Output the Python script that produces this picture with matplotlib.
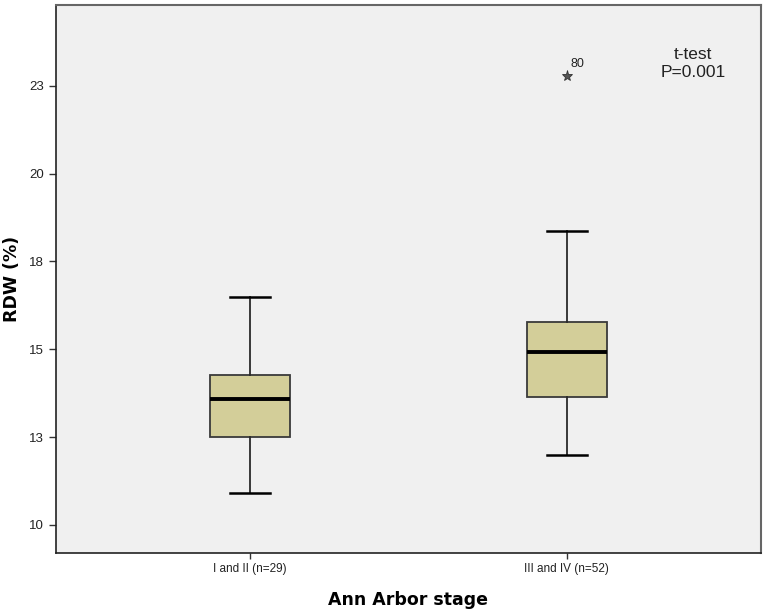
import matplotlib
matplotlib.use("Agg")
import matplotlib.pyplot as plt

groups = ["I and II (n=29)", "III and IV (n=52)"]
whisker_low = [10.90, 11.98]
q1 = [12.50, 13.63]
median = [13.59, 14.92]
q3 = [14.27, 15.79]
whisker_high = [16.50, 18.38]
outliers = [[], [22.79]]
outlier_labels = [[], ["80"]]
ytick_values = [10, 12.5, 15, 17.5, 20, 22.5]
ytick_labels = ["10", "13", "15", "18", "20", "23"]

plt.rcParams['font.family'] = ['Liberation Sans', 'DejaVu Sans']

fig = plt.figure(figsize=(7.66, 6.13), dpi=100)
ax = fig.add_axes([56/766, 1-553/613, 705/766, 548/613])
ax.set_facecolor('#F0F0F0')

stats = []
for i in range(len(groups)):
    stats.append(dict(med=median[i], q1=q1[i], q3=q3[i], whislo=whisker_low[i],
                      whishi=whisker_high[i], fliers=[], label=groups[i]))
positions = [1, 2]
ax.bxp(stats, positions=positions, widths=0.253, patch_artist=True, showfliers=False,
       boxprops=dict(facecolor='#D3CE99', edgecolor='#3a3a3a', linewidth=1.3),
       medianprops=dict(color='black', linewidth=2.8),
       whiskerprops=dict(color='#2a2a2a', linewidth=1.3),
       capprops=dict(color='black', linewidth=1.8),
       capwidths=0.126)

for i, pts in enumerate(outliers):
    for v, lab in zip(pts, outlier_labels[i]):
        ax.plot(positions[i], v, marker='*', markersize=8, markerfacecolor='#555555',
                markeredgecolor='#333333', markeredgewidth=0.6, linestyle='none')
        ax.annotate(lab, (positions[i], v), xytext=(3, 4), textcoords='offset points',
                    fontsize=9, color='#222222', ha='left', va='bottom')

ax.text(0.904, 0.893, "t-test\nP=0.001", transform=ax.transAxes, ha='center', va='center',
        fontsize=12.5, color='#222222', linespacing=1.2)

ax.set_xlim(0.387, 2.614)
ax.set_ylim(9.2, 24.8)
ax.set_yticks(ytick_values)
ax.set_yticklabels(ytick_labels)
ax.set_xticks(positions)
ax.set_xticklabels(groups)
ax.tick_params(axis='y', length=5, width=1, labelsize=9.5, color='#333333', labelcolor='#222222')
ax.tick_params(axis='x', length=4, width=1, labelsize=8.5, color='#333333', labelcolor='#222222')

for side in ['left', 'bottom']:
    ax.spines[side].set_color('#222222')
    ax.spines[side].set_linewidth(1.2)
for side in ['top', 'right']:
    ax.spines[side].set_color('#666666')
    ax.spines[side].set_linewidth(1.5)

ax.set_ylabel("RDW (%)", fontsize=12.5, fontweight='bold', family='DejaVu Sans', labelpad=6)
ax.set_xlabel("Ann Arbor stage", fontsize=12.5, fontweight='bold', family='DejaVu Sans', labelpad=11)

fig.savefig("out.png", dpi=100)
